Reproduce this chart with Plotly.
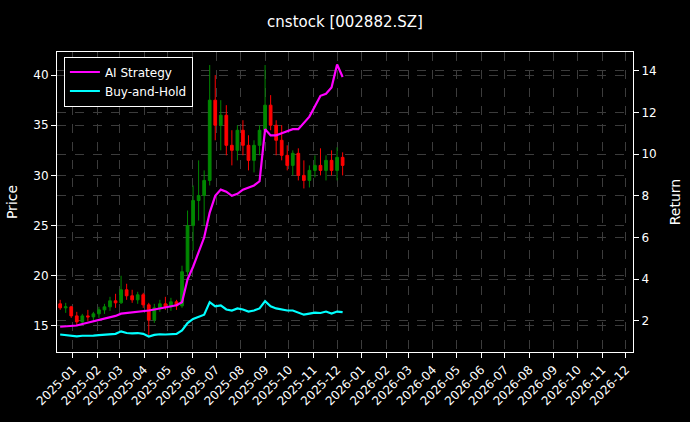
import pandas as pd
import plotly.graph_objects as go

start = "2024-12-16"
opens  = [17.2,16.8,16.9,16.0,15.4,16.0,15.9,16.2,16.6,16.9,17.5,17.3,18.6,18.0,17.6,18.1,17.1,15.6,16.8,17.2,16.9,17.4,
          17.0,20.4,25.0,27.5,28.0,29.5,37.5,35.0,36.0,33.0,32.5,34.5,33.0,31.5,33.0,34.5,37.0,35.0,33.5,32.0,31.0,32.2,
          30.0,29.5,30.5,31.0,30.5,31.5,30.5,31.8]
highs  = [17.6,17.3,17.0,16.4,16.2,16.6,16.4,16.9,17.2,17.9,18.2,20.0,19.2,18.6,18.4,18.3,17.3,17.2,17.6,17.9,17.8,17.6,
          21.0,26.5,29.0,31.5,30.5,41.0,40.0,37.5,37.0,34.5,35.0,35.5,34.0,33.5,35.0,41.0,38.0,35.5,35.0,33.0,32.5,32.7,
          31.5,31.0,32.0,32.7,32.0,32.5,32.8,32.3]
lows   = [16.6,16.3,15.8,15.0,15.2,15.5,15.5,15.8,16.2,16.5,16.8,17.2,17.6,17.3,17.2,16.8,14.1,15.3,16.4,16.6,16.5,16.6,
          16.8,20.0,22.5,25.5,25.0,29.0,33.5,32.5,32.0,31.0,31.5,32.0,30.5,30.3,32.0,34.0,34.5,32.0,31.5,30.5,30.0,29.5,
          28.7,28.8,29.8,30.0,29.5,30.0,29.5,30.0]
closes = [16.8,16.9,16.0,15.4,16.0,15.9,16.2,16.6,16.9,17.5,17.3,18.6,18.0,17.6,18.1,17.1,15.6,16.8,17.2,16.9,17.4,17.0,
          20.4,25.0,27.5,28.0,29.5,37.5,35.0,36.0,33.0,32.5,34.5,33.0,31.5,33.0,34.5,37.0,35.0,33.5,32.0,31.0,32.2,30.0,
          29.5,30.5,31.0,30.5,31.5,30.5,31.8,31.0]
ai_strategy = [1.72,1.73,1.74,1.78,1.85,1.92,1.98,2.05,2.12,2.18,2.24,2.35,2.38,2.40,2.42,2.45,2.50,2.55,2.60,2.65,2.68,2.75,
               2.90,4.0,4.6,5.3,6.0,7.2,8.0,8.3,8.2,8.0,8.1,8.3,8.4,8.5,8.7,11.2,10.9,10.9,11.0,11.1,11.2,11.2,
               11.5,11.8,12.3,12.8,12.9,13.2,14.3,13.7]
buy_hold = [1.35,1.33,1.30,1.26,1.29,1.28,1.30,1.32,1.33,1.36,1.38,1.50,1.42,1.40,1.42,1.38,1.25,1.33,1.36,1.35,1.37,1.38,
            1.55,1.90,2.10,2.20,2.30,2.90,2.70,2.75,2.55,2.50,2.60,2.55,2.45,2.50,2.60,2.95,2.70,2.60,2.55,2.50,2.50,2.40,
            2.30,2.35,2.40,2.38,2.45,2.35,2.45,2.42]
dates = pd.date_range(start, periods=len(closes), freq="7D")

fig = go.Figure()
fig.add_trace(go.Candlestick(x=dates, open=opens, high=highs, low=lows, close=closes,
    increasing=dict(line=dict(color="#008800", width=1), fillcolor="#008800"),
    decreasing=dict(line=dict(color="#ff0000", width=1), fillcolor="#ff0000"),
    whiskerwidth=0, showlegend=False, yaxis="y"))
fig.add_trace(go.Scatter(x=dates, y=ai_strategy, mode="lines", name="AI Strategy",
    line=dict(color="#ff00ff", width=2.2), yaxis="y2"))
fig.add_trace(go.Scatter(x=dates, y=buy_hold, mode="lines", name="Buy-and-Hold",
    line=dict(color="#00ffff", width=2.2), yaxis="y2"))

grid = dict(showgrid=True, gridcolor="#3c3c3c", griddash="dash", gridwidth=0.6)
fig.update_layout(
    width=690, height=422, paper_bgcolor="black", plot_bgcolor="black",
    font=dict(family="DejaVu Sans", color="white", size=12),
    title=dict(text="cnstock [002882.SZ]", x=0.5, xanchor="center", y=0.96, font=dict(size=15)),
    margin=dict(l=57, r=57, t=52, b=70),
    xaxis=dict(type="date", range=["2024-12-12", "2026-12-10"], tickformat="%Y-%m", dtick="M1",
               tick0="2025-01-01", tickangle=-45, rangeslider=dict(visible=False), automargin=False,
               showline=True, linecolor="white", mirror=True, ticks="outside", tickcolor="white", **grid),
    yaxis=dict(title=dict(text="Price", standoff=12), range=[12.4, 42.3], tickvals=[15,20,25,30,35,40],
               automargin=False, showline=True, linecolor="white", ticks="outside", tickcolor="white", **grid),
    yaxis2=dict(title=dict(text="Return", standoff=14), overlaying="y", side="right", range=[0.51, 14.9],
                tickvals=[2,4,6,8,10,12,14], automargin=False, showline=True, linecolor="white", ticks="outside",
                tickcolor="white", **grid),
    legend=dict(x=0.012, y=0.985, xanchor="left", yanchor="top", bgcolor="black",
                bordercolor="white", borderwidth=1, font=dict(size=12)),
)
fig.write_html("out.html", config={"displayModeBar": False},
               post_script="document.body.style.margin='0';document.body.style.background='black';")
